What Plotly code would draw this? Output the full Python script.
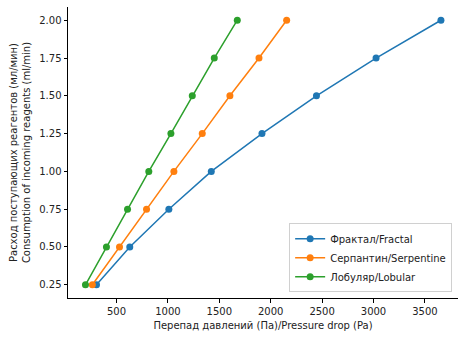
import plotly.graph_objects as go

flow = [0.25, 0.50, 0.75, 1.00, 1.25, 1.50, 1.75, 2.00]
fractal_dp = [305, 629, 1009, 1422, 1915, 2445, 3025, 3656]
serpentine_dp = [265, 529, 792, 1058, 1334, 1603, 1886, 2155]
lobular_dp = [198, 402, 607, 814, 1029, 1237, 1451, 1675]

names = ["Фрактал/Fractal", "Серпантин/Serpentine", "Лобуляр/Lobular"]
colors = ["#1f77b4", "#ff7f0e", "#2ca02c"]
x_ticks = [500, 1000, 1500, 2000, 2500, 3000, 3500]
y_ticks = [0.25, 0.50, 0.75, 1.00, 1.25, 1.50, 1.75, 2.00]

fig = go.Figure()
for name, xs, c in zip(names, [fractal_dp, serpentine_dp, lobular_dp], colors):
    fig.add_trace(go.Scatter(x=xs, y=flow, mode="lines+markers", name=name,
                             line=dict(color=c, width=1.5),
                             marker=dict(color=c, size=7)))

font = dict(family="DejaVu Sans", size=10, color="#222")
fig.update_layout(
    width=465, height=339,
    margin=dict(l=68, r=7, t=7, b=41),
    plot_bgcolor="white", paper_bgcolor="white",
    font=font,
    showlegend=True,
    legend=dict(x=0.985, y=0.02, xanchor="right", yanchor="bottom",
                bordercolor="#d0d0d0", borderwidth=1, bgcolor="rgba(255,255,255,0.8)",
                font=dict(family="DejaVu Sans", size=10, color="#222"),
                tracegroupgap=0, itemwidth=30),
)
fig.update_xaxes(range=[28, 3822], tickvals=x_ticks, showgrid=False, zeroline=False,
                 showline=True, linecolor="black", linewidth=1, ticks="outside",
                 ticklen=3.5, tickcolor="black", automargin=False,
                 title=dict(text="Перепад давлений (Па)/Pressure drop (Pa)", standoff=6,
                            font=dict(family="DejaVu Sans", size=10, color="#222")))
fig.update_yaxes(range=[0.1625, 2.0875], tickvals=y_ticks, tickformat=".2f",
                 showgrid=False, zeroline=False,
                 showline=True, linecolor="black", linewidth=1, ticks="outside",
                 ticklen=3.5, tickcolor="black", automargin=False,
                 title=dict(text="Расход поступающих реагентов (мл/мин)<br>Consumption of incoming reagents (ml/min)",
                            standoff=6,
                            font=dict(family="DejaVu Sans", size=10, color="#222")))

fig.write_html("out.html", config={"displayModeBar": False},
               post_script="document.body.style.margin='0';")
